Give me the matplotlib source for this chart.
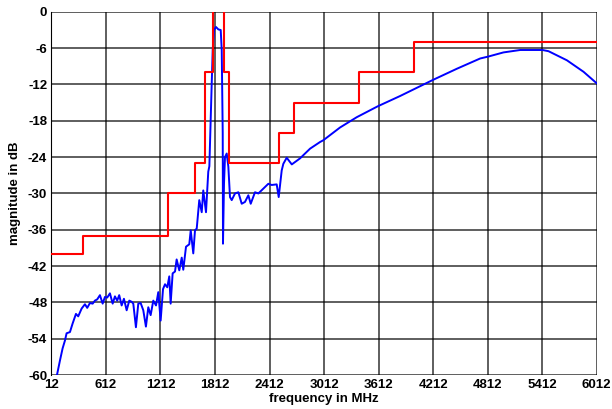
import matplotlib
matplotlib.use("Agg")
import matplotlib.pyplot as plt

# Red mask (step, post)
mask_f = [12, 362, 1295, 1595, 1700, 1788, 1915, 1970, 2520, 2680, 3400, 4000, 6012]
mask_db = [-40, -37, -30, -25, -10, 5, -10, -25, -20, -15, -10, -5, -5]

# Blue measured response
resp_f = [55, 69, 106, 135, 161, 179, 216, 245, 282, 307, 345, 381, 406, 436, 466, 491,
          516, 546, 576, 601, 626, 656, 686, 711, 736, 758, 785, 810, 840, 869, 895, 913,
          942, 968, 994, 1023, 1052, 1078, 1104, 1133, 1163, 1188, 1214, 1240, 1262, 1287,
          1309, 1324, 1346, 1372, 1390, 1419, 1446, 1463, 1493, 1529, 1545, 1573, 1592,
          1611, 1639, 1666, 1683, 1713, 1738, 1750, 1757, 1776, 1787, 1801, 1823, 1849,
          1875, 1886, 1897, 1900, 1911, 1922, 1941, 1959, 1977, 1996, 2032, 2069, 2106,
          2142, 2179, 2205, 2252, 2289, 2344, 2399, 2436, 2491, 2513, 2546, 2564, 2601,
          2657, 2748, 2858, 2968, 3005, 3188, 3372, 3603, 3849, 4216, 4473, 4730, 4815,
          4986, 5170, 5416, 5482, 5684, 5867, 6012]
resp_db = [-62, -60.3, -57.6, -55.6, -54.3, -53.1, -52.9, -51.5, -49.9, -50.3, -49, -48.3,
           -48.9, -48.1, -48.2, -47.7, -47.5, -46.8, -48.2, -47.1, -47.2, -46.5, -48.2,
           -47, -47.7, -46.8, -48.5, -47.4, -49.3, -47.7, -47.9, -48.2, -52.1, -48.2,
           -48.1, -49.3, -52, -48.8, -50.1, -47.7, -48.5, -46.3, -51, -45.8, -45, -45.5,
           -43.7, -48.2, -43.2, -42.9, -40.9, -42.7, -40.6, -42.6, -38.8, -38.4, -36.1,
           -39.9, -36.1, -35.8, -31.1, -33.1, -29.5, -33.1, -26.4, -25.5, -21.8, -11.8,
           -6.3, -3, -2.5, -2.9, -3, -6.3, -20, -38.3, -28.4, -24, -23.4, -25.6, -30.6,
           -31.1, -30, -29.8, -31.7, -31.4, -30.3, -31.7, -29.8, -30, -29.2, -28.4, -28.6,
           -28.5, -30.6, -26.2, -25.1, -24.1, -25.2, -24.2, -22.6, -21.5, -21.2, -19.1,
           -17.4, -15.6, -13.9, -11.2, -9.4, -7.7, -7.4, -6.7, -6.3, -6.3, -6.5, -8, -9.9,
           -11.8]

xticks = [12, 612, 1212, 1812, 2412, 3012, 3612, 4212, 4812, 5412, 6012]
yticks = [0, -6, -12, -18, -24, -30, -36, -42, -48, -54, -60]

plt.rcParams['font.family'] = ['Liberation Sans', 'DejaVu Sans']

fig = plt.figure(figsize=(6.12, 4.09), dpi=100)
ax = fig.add_axes([0.084, 0.083, 0.891, 0.888])
ax.plot(resp_f, resp_db, color="#0000ff", lw=1.4, zorder=3)
ax.step(mask_f, mask_db, where="post", color="#ff0000", lw=1.5, zorder=4)

ax.set_xlim(12, 6012)
ax.set_ylim(-60, 0)
ax.set_xticks(xticks)
ax.set_yticks(yticks)
ax.set_xticklabels([str(t) for t in xticks], fontsize=9.5, fontweight="bold")
ax.set_yticklabels([str(t) for t in yticks], fontsize=9.5, fontweight="bold")
ax.grid(True, color="black", lw=1.1, ls="-", alpha=0.8)
ax.tick_params(length=0, pad=3)
for s in ax.spines.values():
    s.set_visible(False)
ax.spines["left"].set_visible(True)
ax.spines["left"].set_color("black")
ax.set_xlabel("frequency in MHz", fontsize=9.5, fontweight="bold", labelpad=1)
ax.set_ylabel("magnitude in dB", fontsize=9.5, fontweight="bold", labelpad=5)
fig.savefig("out.png", dpi=100, facecolor="white")
